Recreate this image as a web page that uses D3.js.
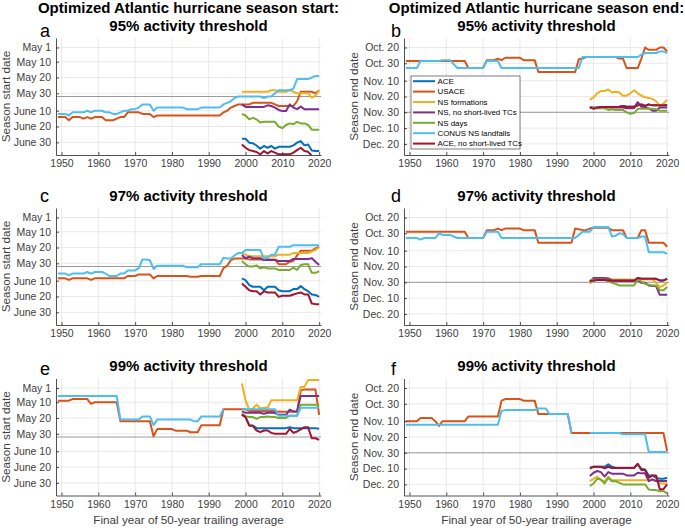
<!DOCTYPE html>
<html>
<head>
<meta charset="utf-8">
<script src="https://d3js.org/d3.v7.min.js"></script>
<style>
  body { margin: 0; background: #fff; }
  svg { font-family: "Liberation Sans", Arial, Helvetica, sans-serif; }
</style>
</head>
<body>
<div id="chart"></div>
<script>
// years
var years = d3.range(1949, 2021);
var recent = d3.range(1999, 2021);

var seriesNames = ["ACE", "USACE", "NS formations", "NS, no short-lived TCs",
                   "NS days", "CONUS NS landfalls", "ACE, no short-lived TCs"];
var colors = ["#0072BD", "#D95319", "#EDB120", "#7E2F8E", "#77AC30", "#4DBEEE", "#A2142F"];

// day-of-year ticks
var startTicks = [121, 130, 140, 150, 161, 171, 181];
var startLabels = ["May 1", "May 10", "May 20", "May 30", "June 10", "June 20", "June 30"];
var endTicks = [293, 303, 314, 324, 334, 344, 354];
var endLabels = ["Oct. 20", "Oct. 30", "Nov. 10", "Nov. 20", "Nov. 30", "Dec. 10", "Dec. 20"];
var yearTicks = [1950, 1960, 1970, 1980, 1990, 2000, 2010, 2020];

// ---- panel a: start, 95% (values = day of year)
var aUSACE = [165,165,165,167,165,165,165,166,165,166,165,165,165,167,167,167,166,165,165,162,162,162,162,163,163,163,165,
  164,164,164,164,164,164,164,164,164,164,164,164,164,164,164,164,164,164,
  162,161,159,158,157,157,157,157,156,156,156,156,156,156,157,158,158,158,158,158,155,149,149,149,149,150,148];
var aCONUS = [163,163,163,164,162,162,162,162,161,162,161,161,161,162,162,163,163,162,161,161,160,160,159,157,157,157,161,
  159,159,159,159,159,159,159,159,160,160,160,160,159,159,159,159,159,159,
  157,156,155,153,152,152,152,152,152,152,152,153,152,152,150,148,148,148,148,147,141,141,141,141,140,139,139];
var aACE = [178.7,178.7,181.2,181.6,183,185,183.3,184.4,183.3,185,183.8,183.8,183.8,183.8,182.9,181.2,180.2,182.9,182.3,186.1,186.5,186.5];
var aNSform = [149,149,149,149,149,149,149,149,148,148,149,149,149,148,149,150,150,150,150,152.7,151.5,148];
var aNSnoShort = [157,158.6,158.6,158.6,158.6,158.6,158.6,157.6,158,159,160.5,161.2,161.2,157,159,160,158.4,160,160,160,160,160];
var aNSdays = [163,164,166.5,165.5,166.5,168.5,168,168,168,168,171,172,170,169,169.5,168,169,169,170,173,173,173];
var aACEnoShort = [182.3,184.4,185.9,186.5,187.1,188.6,186.5,188,186.5,187.5,188.6,188.6,188.6,188.6,187.5,185.9,184.4,186.5,187,189.5,191,191];

// ---- panel b: end, 95%
var bUSACE = [301.5,301.5,301.5,301.5,301.5,301.5,301.5,301.5,301.5,301.5,301.5,301.5,301.5,301.5,301.5,301.5,301.5,
  306,306,306,306,306,301,301,301,300,301,299.5,299.5,299.5,299.5,299.5,301,301,301,301,
  308.5,308.5,308.5,308.5,308.5,308.5,308.5,308.5,308.5,308.5,308.5,300.5,300,
  299,299,299,299,299,299,299,299,299,300,300,306,306,306,306,300,293,294.5,294.5,294.5,293,293,295.5];
var bCONUS = [306,306,306,306,301.5,301.5,301.5,301.5,301.5,301.5,301,301,301,303.5,306,306,306,306,306,306,306,306,
  301.5,301.5,301.5,301.5,
  306,306,306,306,306,306,306,306,306,306,306,306,306,306,306,306,306,306,306,306,306,306,
  299,299,299,299,299,299,299,299,299,299,299,299,299,299,299,299,297.5,296.5,296.5,296.5,296.5,295.5,295.5,296.5];
var bACE = [330.7,331.5,331,330.7,330.7,330.7,330.7,330.7,330.5,330,330.5,330.5,330.5,329.6,329,330,329,329.6,329.6,329.6,329.6,329.6];
var bNSform = [326,324.5,322,320.5,320.5,319.5,321.5,321,321.5,323.5,323.5,322,320,322,323.5,324.5,325,325.5,327,330,328.5,326];
var bNSnoShort = [331,331,331,331,331,331,331,331,331,331,331.5,331.5,331.5,327.5,330.5,331,331.5,333,333,331,331,331];
var bNSdays = [331,331,331.5,331.5,331.5,332.5,332,332.5,332.5,332.5,334,335,334.5,331.8,331.8,331.8,331.8,331.8,332,333,333,333];
var bACEnoShort = [330.7,331.8,331.2,330.7,330.7,330.7,330.7,330.7,330.5,330,330.5,330.5,330.5,329.6,329,330,329,329.6,329.6,329.6,329.6,329.6];

// ---- panel c: start, 97%
var cUSACE = [159.5,159.5,159.5,160.5,159.5,159.5,159.5,159.5,159.5,160.5,
  159.5,159.5,159.5,159.5,159.5,159.5,159.5,159.5,159.5,158,158,158,157,157,157,157,159.5,
  158,158,158,158,158,158,158,158,158,158.5,158.5,158.5,158,158,158,158,158,158,
  153,151.5,148,147,147,147,147,147.5,147.5,147.5,147.5,147.5,147.5,147.5,147.5,150.5,150.5,150.5,149,148.5,145,142,142,142,142,140.5,139.5];
var cCONUS = [156.5,156.5,156.5,157.5,156.5,156.5,156.5,156.5,155.5,156.5,155.5,155.5,155.5,156.5,158,158,158,156.5,156.5,
  154.5,154.5,154.5,153,147.5,147.5,148,153.5,
  151.5,151.5,151.5,151.5,151.5,151.5,151.5,151.5,152.5,152.5,152.5,152.5,150.5,150.5,150.5,150.5,150.5,150.5,
  146.5,147,147,145,143.5,143.5,141.5,141.5,141.5,141.5,141.5,147,146.5,144.5,144.5,139.5,139.5,139.5,139.5,
  138.5,138.5,138.5,138.5,138.5,138.5,138.5,138.5];
var cACE = [159.5,160.6,163.8,164.8,164.8,164.8,167,164.8,164.8,164.8,167,167.6,167.6,167.6,166.3,166.3,164.4,166.3,167.6,169.7,170,171.2];
var cNSform = [143.5,144.5,145.5,145.5,145.5,145.5,145.5,145.5,145.5,145.5,144.5,144.5,144.5,144.5,143.5,143.5,143.5,143.5,143.5,142.5,141.5,139.8];
var cNSnoShort = [144.7,146.8,145.7,146.8,146.8,146.8,147.9,147.9,147.9,147.9,148.5,148.5,148.5,148.5,147.2,147.2,147.2,147.2,147.2,146.8,149,151];
var cNSdays = [148.5,150.6,152,152,151.3,153.2,152.5,153.2,153.2,153.2,154.2,154.2,154.2,154.2,152.7,154.2,151,150.6,150.6,156,156,155];
var cACEnoShort = [162.7,164.8,167,167.6,167.6,169.7,167.6,168.4,168.4,168.4,171.2,170.5,170.5,170.5,169.7,169,168.4,169.7,169.7,175.4,175.8,175.8];

// ---- panel d: end, 97%
var dUSACE = [302,302,302,302,302,302,302,302,302,302,302,302,302,302,302,302,302,306,306,306,306,306,
  301,301,301,300,301,300,300,300,300,300,301,301,301,301,
  309,309,309,309,309,309,309,309,309,309,300,300.5,301,301,300,299.5,299.5,299.5,299.5,299.5,
  301,301,301,301,306,306,306,306,301,301,309,309,309,309,309,311.5];
var dCONUS = [306,306,306,306,307,306,306,306,306,303,304,304,304,305,306,306,306,306,306,306,306,306,
  302,302,302,302,
  306,306,306,306,306,306,306,306,306,306,306,306,306,306,306,306,306,306,306,306,306,
  304,302,302,302,299,299,299,299,299,305,304.5,303,303.5,306,306,306,306,305,305,315,315,315,315,315,316];
var dACE = [333.5,332.8,332.5,332.5,332.5,332.8,333,333,333,333,333,333,333,331.3,331.8,331.8,331.8,331.8,331.8,332.8,332.8,331.8];
var dNSform = [335,331.8,331.3,331.3,331.3,331.3,332.2,332.2,332.2,332.2,332.2,332.2,332.2,332.2,332.2,332.2,332.2,332.2,334.3,337,336,334.3];
var dNSnoShort = [333.5,331.3,331.3,331.3,331.3,331.8,332.8,332.8,332.8,332.8,332.8,332.8,332.8,332.8,334.3,334.3,336,336.4,336.4,341.9,341.9,341.9];
var dNSdays = [332.8,332.2,332.2,332.2,332.2,332.8,334.3,335,336,336,336,336,336,332.2,333.5,335,335.6,336,336,339,339,337];
var dACEnoShort = [333.5,332.8,332.5,332.5,332.5,332.8,333,333,333,333,333,333,333,331.3,331.8,331.8,331.8,331.8,331.8,332.8,332.8,331.8];

// ---- panel e: start, 99%
var eUSACE = [129,129,129,129,128,128,128,128,128,131,130,130,130,130,130,130,130,
  142,142,142,142,142,142,142,142,142,151.5,147,147,147,147,147,148,148,148,148,149,149,149,
  144.5,144.5,144.5,144.5,144.5,144.5,134.5,134.5,134.5,134.5,134.5,134.5,134.5,
  135.5,135.5,135.5,135.5,135.5,135.5,135.5,135.5,136,136,136,136,136,136,122.5,122,122,122,122,138];
var eCONUS = [126,126,126,126,126,126,126,126,126,126,126,126,126,126,126,126,126,
  141,141,141,141,141,141,139,139,139,144.5,141,141,141,141,141,141,141,141,141,141,142,142,
  139,139,139,139,139,139,134.5,null,null,null,null,
  134.5,134.5,134.5,134.5,134.5,134.5,134.5,134.5,134.5,134.5,138.5,138.5,138.5,138.5,138.5,138.5,
  133.5,133.5,133.5,133.5,133.5,133.5];
var eACE = [137.9,139.4,144.7,144.7,146.4,146.4,146.4,146.4,146.4,146.4,146.4,146.4,146.4,145.8,146.4,146.4,146.4,146.4,146.4,146.4,146.4,146.8];
var eNSform = [118.2,128.8,134.7,134,131.6,134,133.5,133.5,128.8,128.8,128.8,128.8,128.8,128.8,128.8,128.8,120.3,120.3,116,116,116,116];
var eNSnoShort = [135.8,136.7,136.7,136.7,136.7,136.7,137.3,136.7,136.7,136.7,138,138,138,134.7,135.8,135.8,126,126,126,126,126,126];
var eNSdays = [137.3,138.8,139.4,139.4,140.5,139.4,139.4,139,139.4,139.4,140,140,140,138.5,138.5,138.5,131.6,131.6,131.6,131.6,131.6,131.6];
var eACEnoShort = [137.9,139.4,144.7,145.1,147.9,148.9,147.9,147.9,149.4,150,150,150,150,146.8,149.4,148.5,147.2,145.8,145.8,152.8,152.8,153.8];

// ---- panel f: end, 99%
var fUSACE = [314,314,314,314,312,312,312,312,314,317,314,314,314,314,314,314,314,
  311,311,311,311,311,311,311,311,311,301,300,300,300,300,300,301,301,301,301,
  309.5,309.5,309.5,309.5,309.5,309.5,309.5,309.5,309.5,
  321.5,321.5,321.5,321.5,321.5,321.5,321.5,321.5,321.5,321.5,321.5,321.5,321.5,321.5,321.5,321.5,321.5,321.5,321.5,321.5,321.5,
  321.5,321.5,321.5,321.5,321.5,333];
var fCONUS = [316.3,316.3,316.3,316.3,316.3,316.3,316.3,316.3,316.3,316.3,316.3,316.3,316.3,316.3,316.3,316.3,316.3,316.3,316.3,316.3,
  316.3,316.3,316.3,316.3,316.3,316.3,307.5,307,307,307,307,307,307,307,307,307,306,306,306,
  309.5,309.5,309.5,309.5,309.5,309.5,321.5,null,null,null,null,
  321.5,321.5,321.5,321.5,321.5,321.5,321.5,321.5,321.5,322.3,322.3,322.3,322.3,322.3,322.3,322.3,
  333.5,333.5,333.5,333.5,333.5,333.5];
var fACE = [343.4,342.8,342.8,342.8,342.8,341.3,342.8,343.4,343.4,343.4,343.4,343.4,343.4,341.3,344,344.5,348.3,348.3,349.8,350.4,350.4,349.8];
var fNSform = [351.9,350.4,349,351.3,351.9,349.2,351.3,351.3,351.3,351.3,351.3,351.3,351.3,351.3,351.3,351.3,351.3,351.3,351.3,353.4,353.4,353.4];
var fNSnoShort = [348.7,346.6,345.5,346.2,349,346.2,347.2,347.2,347.2,347.2,348.3,348.3,348.3,346.6,347,347,351.9,350.8,351.9,351.9,351.9,351.9];
var fNSdays = [355,353.4,350.4,350.8,353.4,349.8,352,352,353,354,354,354,354,354,354,354,357.2,357.6,357.6,358.3,358.3,359.7];
var fACEnoShort = [344,342.8,342.8,342.8,343.8,342.8,343.6,343.6,343.6,343.6,343.6,343.6,343.6,340.9,344.9,344.9,349.8,348.3,348.3,357,357,354];

var panels = [
  { letter: "a", col: 0, row: 0, kind: "start", title: ["Optimized Atlantic hurricane season start:", "95% activity threshold"],
    series: [aACE, aUSACE, aNSform, aNSnoShort, aNSdays, aCONUS, aACEnoShort] },
  { letter: "b", col: 1, row: 0, kind: "end", title: ["Optimized Atlantic hurricane season end:", "95% activity threshold"],
    series: [bACE, bUSACE, bNSform, bNSnoShort, bNSdays, bCONUS, bACEnoShort], legend: true },
  { letter: "c", col: 0, row: 1, kind: "start", title: ["97% activity threshold"],
    series: [cACE, cUSACE, cNSform, cNSnoShort, cNSdays, cCONUS, cACEnoShort] },
  { letter: "d", col: 1, row: 1, kind: "end", title: ["97% activity threshold"],
    series: [dACE, dUSACE, dNSform, dNSnoShort, dNSdays, dCONUS, dACEnoShort] },
  { letter: "e", col: 0, row: 2, kind: "start", title: ["99% activity threshold"], xlabel: true,
    series: [eACE, eUSACE, eNSform, eNSnoShort, eNSdays, eCONUS, eACEnoShort] },
  { letter: "f", col: 1, row: 2, kind: "end", title: ["99% activity threshold"], xlabel: true,
    series: [fACE, fUSACE, fNSform, fNSnoShort, fNSdays, fCONUS, fACEnoShort] }
];

var W = 685, H = 528;
var colLeft = [56, 404], plotW = 265;
var letterX = [40, 391];
var rowTop = [38, 208, 378.5], plotH = 117;
var letterY = [37, 202, 374.5];
var axisColor = "#262626";

var svg = d3.select("#chart").append("svg")
    .attr("width", W).attr("height", H);

panels.forEach(function (p, pi) {
    var x0 = colLeft[p.col], y0 = rowTop[p.row];
    var g = svg.append("g").attr("transform", "translate(" + x0 + "," + y0 + ")");

    var x = d3.scaleLinear().domain([1948.5, 2020.5]).range([0, plotW]);
    var y = d3.scaleLinear()
        .domain(p.kind == "start" ? [115, 189] : [287, 361])
        .range([0, plotH]);
    var ticks = p.kind == "start" ? startTicks : endTicks;
    var labels = p.kind == "start" ? startLabels : endLabels;

    // grid
    g.append("g").selectAll("line").data(yearTicks).enter().append("line")
        .attr("x1", function (d) { return x(d); }).attr("x2", function (d) { return x(d); })
        .attr("y1", 0).attr("y2", plotH)
        .attr("stroke", "#e3e3e3").attr("stroke-width", 0.8);
    g.append("g").selectAll("line").data(ticks).enter().append("line")
        .attr("x1", 0).attr("x2", plotW)
        .attr("y1", function (d) { return y(d); }).attr("y2", function (d) { return y(d); })
        .attr("stroke", "#e3e3e3").attr("stroke-width", 0.8);

    // official season boundary (June 1 / Nov 30)
    var ref = p.kind == "start" ? 152 : 334;
    g.append("line")
        .attr("x1", 0).attr("x2", plotW)
        .attr("y1", y(ref)).attr("y2", y(ref))
        .attr("stroke", "#9a9a9a").attr("stroke-width", 1);

    // clip
    var cid = "clip" + pi;
    g.append("clipPath").attr("id", cid).append("rect")
        .attr("x", 0).attr("y", 0).attr("width", plotW).attr("height", plotH);

    var line = d3.line()
        .defined(function (d) { return d[1] != null; })
        .x(function (d) { return x(d[0]); })
        .y(function (d) { return y(d[1]); });

    var lines = g.append("g").attr("clip-path", "url(#" + cid + ")");
    p.series.forEach(function (vals, si) {
        var yrs = vals.length == years.length ? years : recent;
        var pts = yrs.map(function (yr, i) { return [yr, vals[i]]; });
        lines.append("path")
            .attr("d", line(pts))
            .attr("fill", "none")
            .attr("stroke", colors[si])
            .attr("stroke-width", 2)
            .attr("stroke-linejoin", "round");
    });

    // axes: x
    var xa = g.append("g").attr("transform", "translate(0," + plotH + ")")
        .call(d3.axisBottom(x).tickValues(yearTicks).tickFormat(d3.format("d")).tickSizeInner(-3).tickSizeOuter(0).tickPadding(5));
    // axes: y
    var ya = g.append("g")
        .call(d3.axisLeft(y).tickValues(ticks).tickFormat(function (d, i) { return labels[i]; }).tickSizeInner(-3).tickSizeOuter(0).tickPadding(5));
    [xa, ya].forEach(function (a) {
        a.select(".domain").attr("stroke", axisColor).attr("stroke-width", 0.8);
        a.selectAll(".tick line").attr("stroke", axisColor).attr("stroke-width", 0.8);
        a.selectAll(".tick text").attr("fill", "#404040")
            .style("font-size", "10.5px").style("font-family", "'Liberation Sans', Arial, sans-serif");
    });

    // y label
    svg.append("text")
        .attr("transform", "translate(" + (x0 - 46) + "," + (y0 + plotH / 2) + ") rotate(-90)")
        .attr("text-anchor", "middle")
        .attr("fill", "#404040")
        .style("font-size", "11.7px")
        .text(p.kind == "start" ? "Season start date" : "Season end date");

    // x label
    if (p.xlabel) {
        svg.append("text")
            .attr("x", x0 + plotW / 2).attr("y", 524)
            .attr("text-anchor", "middle")
            .attr("fill", "#404040")
            .style("font-size", "11.7px")
            .text("Final year of 50-year trailing average");
    }

    // titles
    p.title.forEach(function (t, ti) {
        svg.append("text")
            .attr("x", x0 + plotW / 2)
            .attr("y", y0 - 7.5 - (p.title.length - 1 - ti) * 18)
            .attr("text-anchor", "middle")
            .style("font-size", "15px").style("font-weight", "bold")
            .attr("fill", "#000")
            .text(t);
    });

    // panel letter
    svg.append("text")
        .attr("x", letterX[p.col]).attr("y", letterY[p.row])
        .style("font-size", "18px")
        .attr("fill", "#000")
        .text(p.letter);

    // legend
    if (p.legend) {
        var lg = svg.append("g").attr("transform", "translate(411,76)");
        lg.append("rect").attr("width", 109).attr("height", 73)
            .attr("fill", "#fff").attr("stroke", axisColor).attr("stroke-width", 0.6);
        seriesNames.forEach(function (n, i) {
            var ly = 5.2 + i * 10.4;
            lg.append("line").attr("x1", 2).attr("x2", 24).attr("y1", ly).attr("y2", ly)
                .attr("stroke", colors[i]).attr("stroke-width", 2);
            lg.append("text").attr("x", 26.5).attr("y", ly + 2.8)
                .style("font-size", "7.9px").attr("fill", "#000").text(n);
        });
    }
});
</script>
</body>
</html>
